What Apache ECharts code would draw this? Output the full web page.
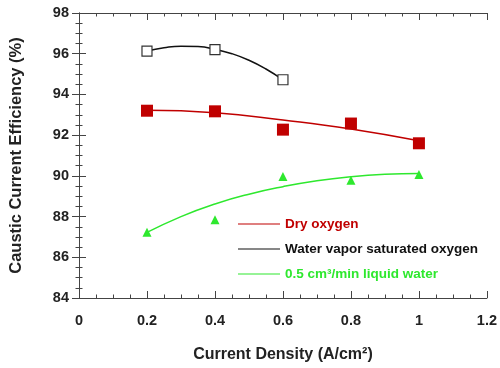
<!DOCTYPE html>
<html><head><meta charset="utf-8">
<script src="https://cdn.jsdelivr.net/npm/echarts@6/dist/echarts.min.js"></script>
<style>html,body{margin:0;padding:0;background:#fff}#c{width:500px;height:368px}</style>
</head><body><div id="c"></div>
<script>
// Measured points
var dryX = [0.2, 0.4, 0.6, 0.8, 1.0];
var dryY = [93.2, 93.17, 92.27, 92.57, 91.6];
var vapX = [0.2, 0.4, 0.6];
var vapY = [96.13, 96.2, 94.72];
var liqX = [0.2, 0.4, 0.6, 0.8, 1.0];
var liqY = [87.23, 87.85, 89.97, 89.78, 90.07];
// Fit curves
var dryFitX = [0.2, 0.4, 0.6, 0.8, 1.0];
var dryFitY = [93.22, 93.1, 92.74, 92.3, 91.72];
var vapFitX = [0.2, 0.25, 0.3, 0.35, 0.4, 0.45, 0.5, 0.55, 0.6];
var vapFitY = [96.13, 96.29, 96.37, 96.35, 96.22, 96.0, 95.68, 95.25, 94.72];
var liqFitX = [0.2, 0.3, 0.4, 0.5, 0.6, 0.7, 0.8, 0.9, 1.0];
var liqFitY = [87.22, 88.0, 88.62, 89.1, 89.47, 89.76, 89.96, 90.08, 90.12];
var legendNames = ['Dry oxygen', 'Water vapor saturated oxygen', '0.5 cm\u00B3/min liquid water'];
var xTitle = 'Current Density (A/cm\u00B2)';
var yTitle = 'Caustic Current Efficiency (%)';

var RED = '#c00000', BLACK = '#111111', GREEN = '#2ee82e';
var FONT = 'Liberation Sans, Arial';
function zip(a, b) { return a.map(function (v, i) { return [v, b[i]]; }); }

var axisLine = { show: true, lineStyle: { color: '#444', width: 1 } };
var tick = { show: true, inside: true, length: 7, lineStyle: { color: '#444' } };
var minor = { show: true, splitNumber: 4, length: 3.5, lineStyle: { color: '#444' } };
var lbl = { color: '#222', fontSize: 14.5, fontWeight: 'bold', fontFamily: FONT };

var chart = echarts.init(document.getElementById('c'), null, { renderer: 'canvas' });
chart.setOption({
  animation: false,
  grid: { left: 77, right: 12, top: 13, bottom: 69 },
  legend: {
    orient: 'vertical', left: 238, top: 217, itemGap: 11, padding: 0,
    itemWidth: 42, itemHeight: 14, icon: 'path://M0,7 L42,7 L42,8.2 L0,8.2 Z',
    textStyle: { fontSize: 13.5, fontWeight: 'bold', fontFamily: FONT },
    data: [
      { name: legendNames[0], itemStyle: { color: RED }, textStyle: { color: RED } },
      { name: legendNames[1], itemStyle: { color: BLACK }, textStyle: { color: BLACK } },
      { name: legendNames[2], itemStyle: { color: GREEN }, textStyle: { color: GREEN } }
    ]
  },
  xAxis: [{
    type: 'value', min: 0, max: 1.2, interval: 0.2, position: 'bottom',
    name: xTitle, nameLocation: 'middle', nameGap: 49,
    nameTextStyle: { color: '#222', fontSize: 16, fontWeight: 'bold', fontFamily: FONT },
    axisLine: axisLine, axisTick: tick, minorTick: minor, splitLine: { show: false },
    axisLabel: Object.assign({ margin: 15, formatter: function (v) { return String(+v.toFixed(1)); } }, lbl)
  }, {
    type: 'value', min: 0, max: 1.2, interval: 0.2, position: 'top',
    axisLine: axisLine, axisTick: tick, minorTick: minor, splitLine: { show: false }, axisLabel: { show: false }
  }],
  yAxis: [{
    type: 'value', min: 84, max: 98, interval: 2, position: 'left',
    name: yTitle, nameLocation: 'middle', nameGap: 54,
    nameTextStyle: { color: '#222', fontSize: 16.5, fontWeight: 'bold', fontFamily: FONT },
    axisLine: axisLine, axisTick: tick, minorTick: minor, splitLine: { show: false },
    axisLabel: Object.assign({ margin: 10 }, lbl)
  }, {
    type: 'value', min: 84, max: 98, interval: 2, position: 'right',
    axisLine: axisLine, axisTick: tick, minorTick: minor, splitLine: { show: false }, axisLabel: { show: false }
  }],
  series: [
    { name: legendNames[0], type: 'line', smooth: true, showSymbol: false, data: zip(dryFitX, dryFitY),
      lineStyle: { color: RED, width: 1.5 }, itemStyle: { color: RED }, z: 2 },
    { name: legendNames[1], type: 'line', smooth: true, showSymbol: false, data: zip(vapFitX, vapFitY),
      lineStyle: { color: BLACK, width: 1.5 }, itemStyle: { color: BLACK }, z: 2 },
    { name: legendNames[2], type: 'line', smooth: true, showSymbol: false, data: zip(liqFitX, liqFitY),
      lineStyle: { color: GREEN, width: 1.5 }, itemStyle: { color: GREEN }, z: 2 },
    { type: 'scatter', data: zip(dryX, dryY), symbol: 'rect', symbolSize: 12,
      itemStyle: { color: RED, opacity: 1 }, z: 3 },
    { type: 'scatter', data: zip(vapX, vapY), symbol: 'rect', symbolSize: 10,
      itemStyle: { color: '#fff', borderColor: '#333', borderWidth: 1.2, opacity: 1 }, z: 3 },
    { type: 'scatter', data: zip(liqX, liqY), symbol: 'triangle', symbolSize: 9,
      itemStyle: { color: GREEN, opacity: 1 }, z: 3 }
  ]
});
</script></body></html>
